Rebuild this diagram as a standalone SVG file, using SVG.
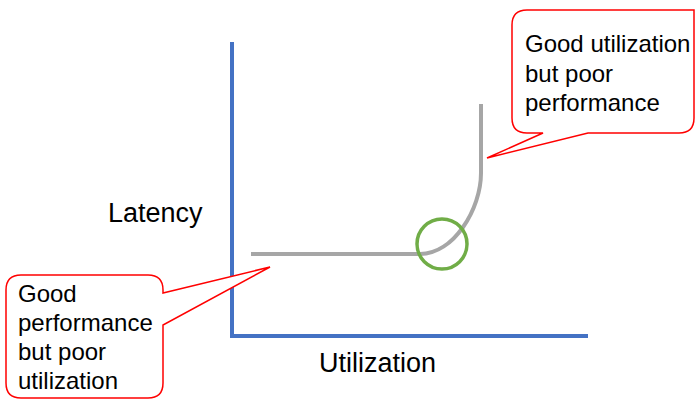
<svg xmlns="http://www.w3.org/2000/svg" width="695" height="400" viewBox="0 0 695 400">
<style>
.axis{fill:none;stroke:#4472C4;stroke-width:4}
.curve{fill:none;stroke:#A6A6A6;stroke-width:4}
.callout{fill:#fff;stroke:#FF0000;stroke-width:1.5}
text{font-family:"Liberation Sans",Arial,sans-serif;fill:#000}
.lbl{font-size:27px}
.ct{font-size:24px}
</style>
<rect width="695" height="400" fill="#fff"/>
<g id="connectors">
<path class="axis" d="M232,42 V336 H588"/>
<path class="curve" d="M251,254 H420 C453.7,254 481,209 481,173 V104"/>
</g>
<g id="circle"><circle cx="442" cy="244" r="25" fill="none" stroke="#70AD47" stroke-width="3.5"/></g>
<g id="latency"><text class="lbl" x="108" y="222">Latency</text></g>
<g id="utilization"><text class="lbl" x="319" y="372">Utilization</text></g>
<g id="callout-right">
<path class="callout" d="M527,10 H694 V118 Q694,133 679,133 H588 L487,158 L543,133 H527 Q512,133 512,118 V25 Q512,10 527,10 Z"/>
<text class="ct" x="525" y="52">Good utilization</text>
<text class="ct" x="525" y="82">but poor</text>
<text class="ct" x="525" y="111">performance</text>
</g>
<g id="callout-left">
<path class="callout" d="M21,275 H148 Q163,275 163,290 V293 L270,267 L163,325 V383 Q163,398 148,398 H21 Q6,398 6,383 V290 Q6,275 21,275 Z"/>
<text class="ct" x="18" y="302">Good</text>
<text class="ct" x="18" y="331">performance</text>
<text class="ct" x="18" y="360">but poor</text>
<text class="ct" x="18" y="389">utilization</text>
</g>
</svg>
